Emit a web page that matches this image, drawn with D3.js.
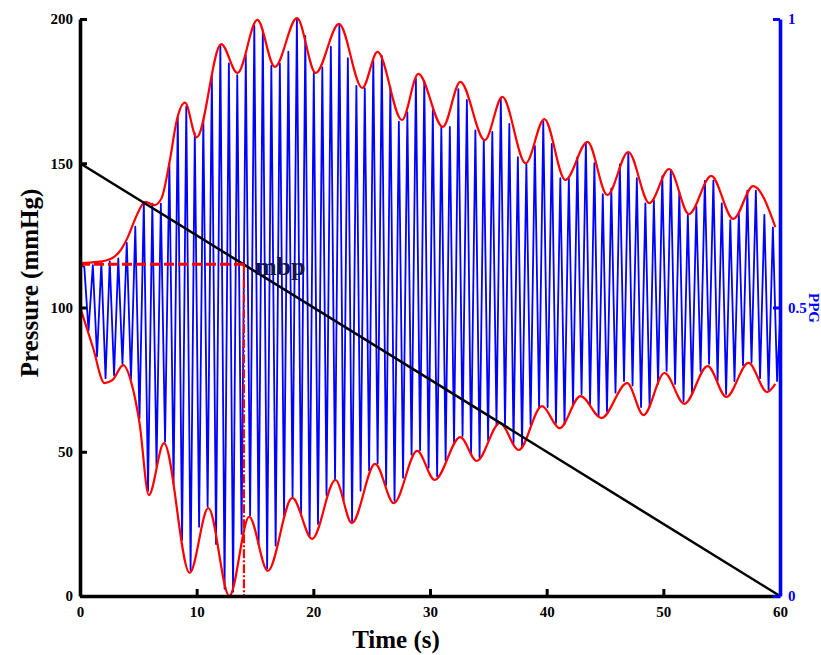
<!DOCTYPE html>
<html>
<head>
<meta charset="utf-8">
<script src="https://cdn.jsdelivr.net/npm/d3@7"></script>
<style>
  body { margin: 0; background: #fff; }
  text { font-family: "Liberation Serif", "Times New Roman", serif; font-weight: bold; }
</style>
</head>
<body>
<script>
// axis ticks
var timeTicks = [0, 10, 20, 30, 40, 50, 60];
var pressureTicks = [0, 50, 100, 150, 200];
var ppgTicks = [0, 0.5, 1];

// cuff pressure ramp (black line)
var cuffT = [0, 60];
var cuffP = [150, 0];

// mean blood pressure marker
var mbpT = 14.05, mbpP = 115;

// upper red envelope
var upperT = [0, 1.5, 2.7, 3.5, 4.1, 4.8, 5.6, 6.4, 7.0, 7.7, 8.3, 9.0, 10.0, 12.1, 13.5, 15.2, 16.7, 18.6, 20.2, 22.2,
  24.2, 25.5, 27.6, 29.0, 31.1, 32.6, 34.7, 36.2, 38.2, 39.8, 41.6, 43.5, 45.2, 47.0, 48.8, 50.5, 52.2, 54.1, 56.0, 57.7, 59.6];
var upperP = [115.4, 115.8, 117, 120, 124.4, 131.4, 136.6, 135.5, 138, 151, 165, 171, 159, 191.3, 181.3, 199.7, 183.4, 200.3, 181.3, 198.3,
  176.1, 188.6, 165, 181, 162.6, 178.2, 158, 173, 150, 165.3, 144.2, 157.4, 139, 153.9, 136.2, 148, 132.4, 145.6, 130.7, 142.1, 127.9];

// lower red envelope
var lowerT = [0, 1.1, 2.1, 2.8, 3.7, 4.5, 5.1, 5.9, 7.2, 9.4, 11.0, 12.8, 14.5, 16.1, 18.2, 19.9, 21.9, 23.3, 25.3, 26.9,
  28.9, 30.4, 32.6, 34.0, 36.0, 37.6, 39.6, 41.1, 42.9, 44.7, 46.9, 48.3, 50.1, 51.8, 53.8, 55.4, 57.3, 58.9, 59.6];
var lowerP = [100.2, 86.3, 73.8, 74.9, 80, 72.4, 60, 35, 53, 8, 30.5, 0, 27.4, 8.7, 34, 19.8, 40.2, 25.3, 45.8, 32.2,
  50.3, 40.2, 55.1, 46.8, 60, 50.6, 65.8, 58.2, 69.3, 61.7, 73.8, 62.7, 77.3, 66.6, 79.7, 69, 80.8, 70.7, 73.5];

// blue signal: peak of each beat, then the trough after it
var signalStart = 115, signalEnd = 95;
var beatT = [0.37, 1.10, 1.83, 2.55, 3.28, 4.01, 4.74, 5.47, 6.20, 6.93, 7.66, 8.38, 9.11, 9.84, 10.57, 11.30, 12.03, 12.76, 13.48, 14.21,
  14.94, 15.67, 16.40, 17.13, 17.86, 18.59, 19.31, 20.04, 20.77, 21.50, 22.23, 22.96, 23.69, 24.41, 25.14, 25.87, 26.60, 27.33, 28.06, 28.79,
  29.51, 30.24, 30.97, 31.70, 32.43, 33.16, 33.89, 34.61, 35.34, 36.07, 36.80, 37.53, 38.26, 38.99, 39.71, 40.44, 41.17, 41.90, 42.63, 43.36,
  44.09, 44.81, 45.54, 46.27, 47.00, 47.73, 48.46, 49.19, 49.91, 50.64, 51.37, 52.10, 52.83, 53.56, 54.29, 55.01, 55.74, 56.47, 57.20, 57.93,
  58.66, 59.39];
var beatPeak = [114, 114.7, 115.5, 116, 117, 122.4, 128, 136.5, 136, 136, 150, 166, 169.6, 160.4, 165, 180.6, 191, 184.6, 180.5, 187.5,
  197.6, 196, 183.8, 184.6, 188.7, 200.2, 194.1, 181.2, 183.2, 190.4, 198.1, 186.4, 176.8, 176, 185.8, 187.2, 176.4, 164.4, 167.6, 179.2,
  178.5, 168.4, 162.4, 162.6, 175.7, 172, 161.4, 158.1, 160.9, 172.5, 163.6, 152.1, 149.7, 156, 164.4, 156.7, 144.8, 144.8, 152.1, 156.9,
  150, 139.3, 141.3, 149.6, 153.6, 144.8, 136.1, 137.2, 145.5, 147.7, 140.1, 132.1, 135, 143.9, 144, 136.1, 130.3, 132.4, 140.5, 140.5,
  132.1, 127.8];
var troughT = [0.73, 1.46, 2.19, 2.92, 3.64, 4.37, 5.10, 5.83, 6.56, 7.29, 8.02, 8.75, 9.48, 10.21, 10.94, 11.66, 12.39, 13.12, 13.85, 14.58,
  15.31, 16.04, 16.77, 17.49, 18.22, 18.95, 19.68, 20.40, 21.13, 21.86, 22.59, 23.32, 24.05, 24.78, 25.51, 26.24, 26.96, 27.69, 28.42, 29.15,
  29.88, 30.61, 31.34, 32.06, 32.79, 33.52, 34.25, 34.98, 35.70, 36.43, 37.16, 37.89, 38.62, 39.35, 40.08, 40.80, 41.53, 42.26, 42.99, 43.72,
  44.45, 45.17, 45.90, 46.63, 47.36, 48.09, 48.82, 49.55, 50.28, 51.01, 51.73, 52.46, 53.19, 53.92, 54.65, 55.38, 56.10, 56.83, 57.56, 58.29,
  59.02, 59.75];
var beatTrough = [92, 83, 75.5, 76.5, 80.5, 75, 61.5, 36.5, 45, 53.5, 39, 19.5, 9, 24, 31, 18, 2.5, 1.5, 21.5, 28,
  18, 9.5, 17.5, 28, 34.5, 28, 21, 25, 35, 40.5, 33, 26, 36.5, 43.5, 46, 38.5, 33, 41, 49, 50.5,
  44.5, 41.5, 47, 53, 55.5, 49.5, 48, 54, 59.5, 59, 53, 51.5, 59.5, 65.5, 65.5, 60, 59.5, 66.5, 70, 66.5,
  62.5, 64, 70.5, 74.5, 73, 65.5, 65.5, 73.5, 78, 73.5, 67.5, 70.5, 78, 80.5, 74.5, 70, 74.5, 80, 81, 75.5,
  71.5, 74.5];

var width = 821, height = 655;
var margin = {top: 19, right: 41, bottom: 59, left: 80};
var blue = "#0000ff", red = "#ff0000";

var svg = d3.select("body").append("svg")
    .attr("width", width)
    .attr("height", height);

var x = d3.scaleLinear().domain([0, 60]).range([margin.left, width - margin.right]);
var y = d3.scaleLinear().domain([0, 200]).range([height - margin.bottom, margin.top]);
var yPPG = d3.scaleLinear().domain([0, 1]).range([height - margin.bottom, margin.top]);

function pairs(ts, vs) {
  return ts.map(function(t, i) { return [t, vs[i]]; });
}

var line = d3.line()
    .x(function(d) { return x(d[0]); })
    .y(function(d) { return y(d[1]); });

var smooth = d3.line()
    .curve(d3.curveMonotoneX)
    .x(function(d) { return x(d[0]); })
    .y(function(d) { return y(d[1]); });

// blue oscillation
var signal = [[0, signalStart]];
beatT.forEach(function(t, i) {
  signal.push([t, beatPeak[i]]);
  signal.push([troughT[i], beatTrough[i]]);
});
signal.push([60, signalEnd]);

svg.append("path")
    .datum(signal)
    .attr("d", line)
    .attr("fill", "none")
    .attr("stroke", blue)
    .attr("stroke-width", 1.8)
    .attr("stroke-linejoin", "round");

// envelopes
[pairs(upperT, upperP), pairs(lowerT, lowerP)].forEach(function(env) {
  svg.append("path")
      .datum(env)
      .attr("d", smooth)
      .attr("fill", "none")
      .attr("stroke", red)
      .attr("stroke-width", 2.2);
});

// cuff ramp
svg.append("path")
    .datum(pairs(cuffT, cuffP))
    .attr("d", line)
    .attr("fill", "none")
    .attr("stroke", "#000")
    .attr("stroke-width", 2.5);

// mbp markers
svg.append("line")
    .attr("x1", x(0)).attr("x2", x(mbpT))
    .attr("y1", y(mbpP)).attr("y2", y(mbpP))
    .attr("stroke", red)
    .attr("stroke-width", 3.2)
    .attr("stroke-dasharray", "10,4");

svg.append("line")
    .attr("x1", x(mbpT)).attr("x2", x(mbpT))
    .attr("y1", y(mbpP)).attr("y2", y(0))
    .attr("stroke", red)
    .attr("stroke-width", 2.2)
    .attr("stroke-dasharray", "9,2,2,2");

svg.append("text")
    .attr("x", x(mbpT) + 11)
    .attr("y", y(mbpP) + 11)
    .attr("font-size", 26)
    .attr("fill", "#141448")
    .text("mbp");

// axes
function styleAxis(g, color) {
  g.select(".domain").attr("stroke", color).attr("stroke-width", 3.6);
  g.selectAll(".tick line").attr("stroke", color).attr("stroke-width", 3);
  g.selectAll(".tick text")
      .attr("fill", color)
      .attr("font-size", 15)
      .attr("font-family", "Liberation Serif, serif")
      .attr("font-weight", "bold");
}

svg.append("g")
    .attr("transform", "translate(" + x(0) + ",0)")
    .call(d3.axisLeft(y).tickValues(pressureTicks).tickSizeInner(-7).tickSizeOuter(0).tickPadding(7))
    .call(styleAxis, "#000");

svg.append("g")
    .attr("transform", "translate(0," + y(0) + ")")
    .call(d3.axisBottom(x).tickValues(timeTicks).tickSizeInner(-7).tickSizeOuter(0).tickPadding(10))
    .call(styleAxis, "#000");

svg.append("g")
    .attr("transform", "translate(" + x(60) + ",0)")
    .call(d3.axisRight(yPPG).tickValues(ppgTicks).tickSizeInner(-7).tickSizeOuter(0).tickPadding(8)
      .tickFormat(function(d) { return String(d); }))
    .call(styleAxis, blue);

// titles
svg.append("text")
    .attr("x", 396)
    .attr("y", 648)
    .attr("text-anchor", "middle")
    .attr("font-size", 25)
    .text("Time (s)");

svg.append("text")
    .attr("transform", "translate(38,283) rotate(-90)")
    .attr("text-anchor", "middle")
    .attr("font-size", 25)
    .text("Pressure (mmHg)");

svg.append("text")
    .attr("transform", "translate(809,308) rotate(90)")
    .attr("text-anchor", "middle")
    .attr("font-size", 15)
    .attr("fill", blue)
    .text("PPG");
</script>
</body>
</html>
